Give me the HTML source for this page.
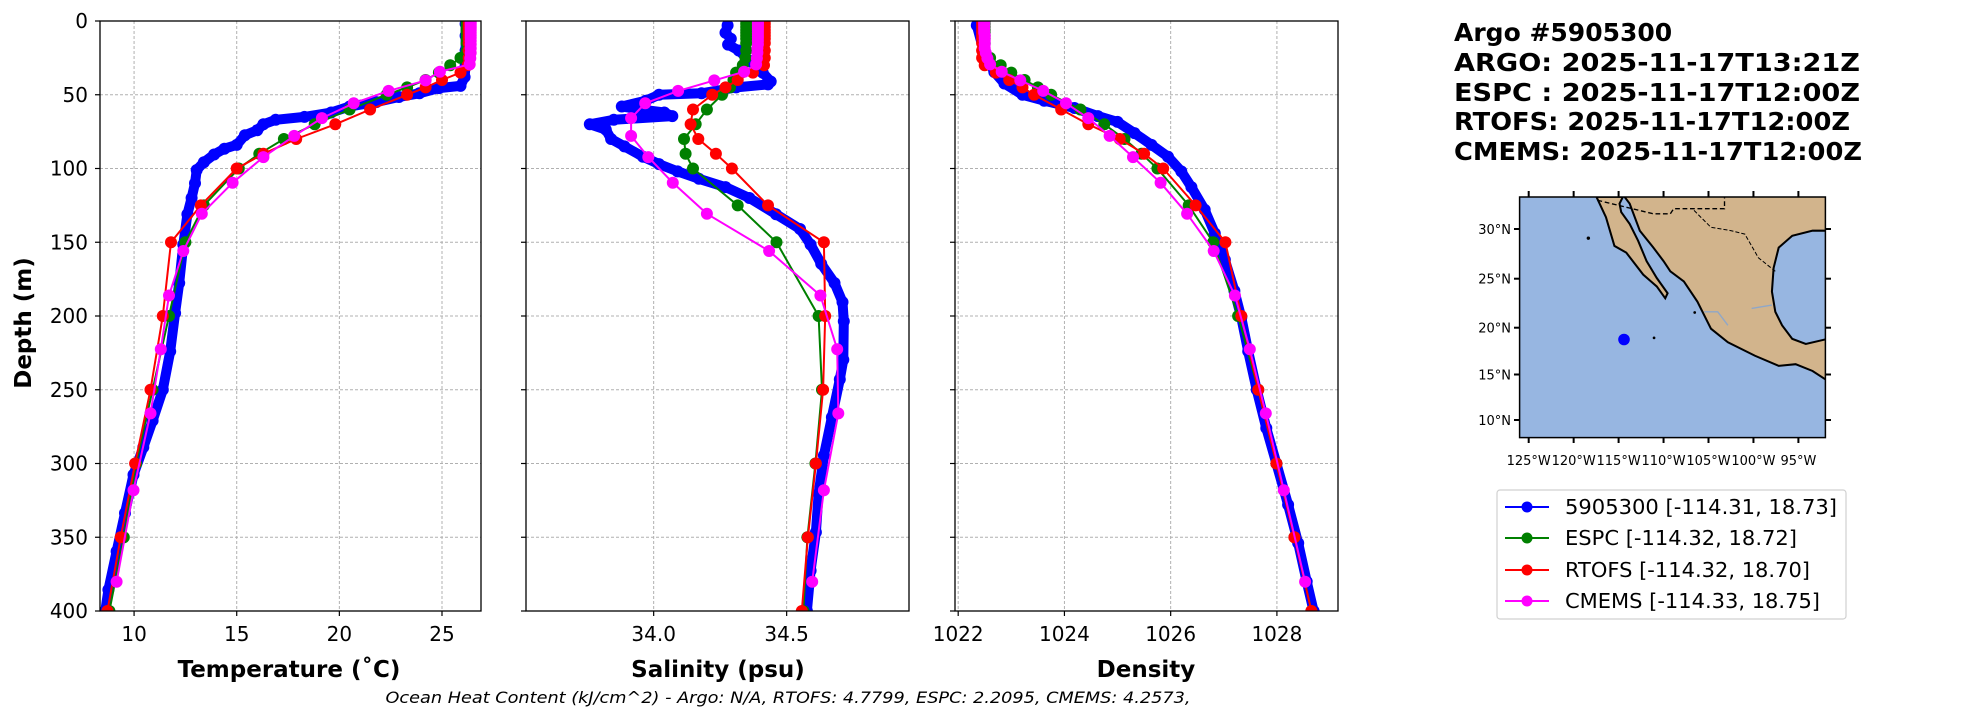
<!DOCTYPE html>
<html><head><meta charset="utf-8">
<style>
html,body{margin:0;padding:0;background:#fff;}
svg{display:block;font-family:"DejaVu Sans","Liberation Sans",sans-serif;}
</style></head>
<body>
<svg id="fig" width="1967" height="712" viewBox="0 0 1967 712" xmlns="http://www.w3.org/2000/svg">
<rect width="1967" height="712" fill="#fff"/>
<g id="panels"></g>

<!-- titles -->
<g font-weight="bold" font-size="25" fill="#000">
<text x="1454" y="41">Argo #5905300</text>
<text x="1454" y="71" textLength="406" lengthAdjust="spacingAndGlyphs">ARGO: 2025-11-17T13:21Z</text>
<text x="1454" y="101" textLength="406" lengthAdjust="spacingAndGlyphs">ESPC : 2025-11-17T12:00Z</text>
<text x="1454" y="130" textLength="396" lengthAdjust="spacingAndGlyphs">RTOFS: 2025-11-17T12:00Z</text>
<text x="1454" y="160" textLength="408" lengthAdjust="spacingAndGlyphs">CMEMS: 2025-11-17T12:00Z</text>
</g>

<!-- map -->
<g>
<clipPath id="mapclip"><rect x="1519.6" y="197" width="305.8" height="240.6"/></clipPath>
<rect x="1519.6" y="197" width="305.8" height="240.6" fill="#97b6e1"/>
<g clip-path="url(#mapclip)">
<g transform="translate(1440,180) scale(0.3387,0.338)">
<polygon fill="#d2b48c" stroke="#000" stroke-width="6" points="545,50 560,70 590,150 630,200 660,240 680,270 720,300 760,360 780,400 800,440 850,480 930,520 1000,550 1050,545 1100,565 1138,590 1145,590 1145,470 1080,485 1040,470 1010,430 990,390 980,330 985,260 1000,200 1040,165 1100,150 1145,150 1145,40 545,40"/>
<polygon fill="#d2b48c" stroke="#000" stroke-width="6" points="462,50 490,110 515,195 550,215 600,280 640,315 665,350 672,335 640,290 610,240 585,180 560,130 535,95 530,70 540,50"/>
<path d="M465,60 L630,100 L680,100 L690,85 L740,85 L840,85 L840,50" fill="none" stroke="#000" stroke-width="4" stroke-dasharray="14,8"/>
<path d="M750,90 L800,140 L860,150 L900,160 L940,230 L990,270" fill="none" stroke="#000" stroke-width="3" stroke-dasharray="12,6"/>
<path d="M780,390 L820,390 L850,430 M920,380 L980,370" fill="none" stroke="#8fa7c8" stroke-width="4"/>
<circle cx="438" cy="172" r="5" fill="#000"/><circle cx="632" cy="467" r="4" fill="#000"/><circle cx="752" cy="392" r="4" fill="#000"/>
</g>
</g>
<rect x="1519.6" y="197" width="305.8" height="240.6" fill="none" stroke="#000" stroke-width="1.5"/>
<circle cx="1624" cy="339.5" r="5.8" fill="#0000ff"/>
<g id="maplabels" font-size="13" fill="#000"></g>
</g>

<!-- legend -->
<g>
<rect x="1497" y="490" width="349" height="129" rx="3" fill="#fff" stroke="#d0d0d0" stroke-width="1.2"/>
<g font-size="20" fill="#000">
<g><line x1="1505" y1="507" x2="1549" y2="507" stroke="#0000ff" stroke-width="2"/><circle cx="1527" cy="507" r="5.5" fill="#0000ff"/><text x="1565" y="514" textLength="272" lengthAdjust="spacingAndGlyphs">5905300 [-114.31, 18.73]</text></g>
<g><line x1="1505" y1="538" x2="1549" y2="538" stroke="#008000" stroke-width="2"/><circle cx="1527" cy="538" r="5.5" fill="#008000"/><text x="1565" y="545" textLength="232" lengthAdjust="spacingAndGlyphs">ESPC [-114.32, 18.72]</text></g>
<g><line x1="1505" y1="570" x2="1549" y2="570" stroke="#ff0000" stroke-width="2"/><circle cx="1527" cy="570" r="5.5" fill="#ff0000"/><text x="1565" y="577" textLength="245" lengthAdjust="spacingAndGlyphs">RTOFS [-114.32, 18.70]</text></g>
<g><line x1="1505" y1="601" x2="1549" y2="601" stroke="#ff00ff" stroke-width="2"/><circle cx="1527" cy="601" r="5.5" fill="#ff00ff"/><text x="1565" y="608" textLength="255" lengthAdjust="spacingAndGlyphs">CMEMS [-114.33, 18.75]</text></g>
</g>
</g>

<text x="788" y="703" font-size="16" font-style="italic" text-anchor="middle" textLength="805" lengthAdjust="spacingAndGlyphs">Ocean Heat Content (kJ/cm^2) - Argo: N/A,  RTOFS: 4.7799,  ESPC: 2.2095,  CMEMS: 4.2573,</text>
</svg>

<script>
// ---------- data ----------
const rtofsDepth=[0,2,4,6,8,10,12,15,20,25,30,35,40,45,50,60,70,80,90,100,125,150,200,250,300,350,400];
const espcDepth=[0,2,4,6,8,10,12,15,20,25,30,35,40,45,50,60,70,80,90,100,125,150,200,250,300,350,400];
const cmemsDepth=[0.5,1.5,2.6,3.8,5.1,6.4,7.9,9.6,11.4,13.5,15.8,18.5,21.6,25.2,29.4,34.4,40.3,47.4,55.8,65.8,77.9,92.3,109.7,130.7,155.9,186.1,222.5,266,318.1,380.2];

const rtofsTemp=[26.3,26.3,26.3,26.3,26.3,26.3,26.3,26.3,26.3,26.3,26.25,25.9,25.0,24.2,23.3,21.5,19.8,17.9,16.3,15.0,13.25,11.8,11.4,10.8,10.05,9.35,8.7];
const espcTemp=[26.2,26.2,26.2,26.2,26.2,26.2,26.2,26.2,26.2,25.9,25.4,24.85,24.2,23.3,22.3,20.5,18.8,17.3,16.1,15.1,13.4,12.5,11.7,10.9,10.1,9.5,8.8];
const cmemsTemp=[26.4,26.4,26.4,26.4,26.4,26.4,26.4,26.4,26.4,26.4,26.4,26.4,26.4,26.38,26.35,24.9,24.2,22.4,20.7,19.15,17.8,16.3,14.8,13.3,12.4,11.7,11.3,10.8,9.97,9.15];
const argoTempDepth=[2,10,20,30,38,44,45.5,49,51.5,55,58,62,65,67,70,74,77.5,84,86.6,90.5,95.7,101,110,120,131,151.6,177.6,198,224,250,271,289,307.6,333.6,359.6,385.6,400];
const argoTemp=[26.15,26.15,26.15,26.15,26.1,25.9,24.85,23.9,22.9,21.8,20.5,19.6,18.3,16.9,16.3,16.0,15.4,15.0,14.4,13.9,13.4,13.05,12.97,12.8,12.6,12.4,12.2,12.0,11.76,11.4,10.9,10.45,9.97,9.56,9.15,8.75,8.6];

const rtofsSal=[34.418,34.418,34.418,34.418,34.418,34.418,34.418,34.418,34.418,34.418,34.415,34.373,34.316,34.27,34.22,34.148,34.139,34.168,34.234,34.294,34.43,34.64,34.645,34.637,34.61,34.58,34.557];
const espcSal=[34.348,34.348,34.348,34.348,34.348,34.348,34.348,34.348,34.348,34.345,34.335,34.31,34.3,34.287,34.257,34.2,34.158,34.114,34.12,34.148,34.316,34.462,34.62,34.633,34.608,34.578,34.563];
const cmemsSal=[34.392,34.392,34.392,34.392,34.392,34.392,34.392,34.392,34.392,34.392,34.392,34.39,34.39,34.388,34.385,34.34,34.228,34.092,33.968,33.915,33.915,33.98,34.072,34.2,34.434,34.627,34.69,34.694,34.64,34.596];
const argoSalDepth=[3,8,12,16,20,27,35,41,43,45,49,50,54,58,60,62,64.5,67,70,73.6,80,85,92,97,102,107,112.6,120,131,141,151.6,164.6,177.6,190.6,203.6,229.6,243,268.6,294.6,320.6,346.6,372.6,400];
const argoSal=[34.278,34.27,34.29,34.28,34.32,34.36,34.41,34.44,34.43,34.31,34.18,34.02,33.97,33.88,33.95,34.04,34.07,33.85,33.76,33.82,33.84,33.89,33.96,34.02,34.09,34.17,34.27,34.36,34.46,34.55,34.59,34.63,34.68,34.71,34.715,34.713,34.70,34.67,34.64,34.62,34.61,34.59,34.576];

const rtofsDens=[1022.45,1022.45,1022.45,1022.45,1022.45,1022.45,1022.45,1022.45,1022.45,1022.45,1022.5,1022.71,1022.96,1023.21,1023.43,1023.94,1024.45,1025.04,1025.5,1025.86,1026.47,1027.03,1027.33,1027.65,1027.99,1028.33,1028.65];
const espcDens=[1022.5,1022.5,1022.5,1022.5,1022.5,1022.5,1022.5,1022.5,1022.5,1022.6,1022.8,1023.0,1023.25,1023.5,1023.75,1024.3,1024.75,1025.13,1025.45,1025.75,1026.34,1026.8,1027.27,1027.65,1027.99,1028.33,1028.65];
const cmemsDens=[1022.49,1022.49,1022.49,1022.49,1022.49,1022.49,1022.49,1022.5,1022.5,1022.5,1022.5,1022.5,1022.52,1022.55,1022.6,1022.82,1023.17,1023.6,1024.03,1024.45,1024.85,1025.29,1025.81,1026.31,1026.81,1027.21,1027.49,1027.79,1028.13,1028.53];
const argoDensDepth=[3,21.6,34.6,42.4,50,54,59,64.5,68.4,76,84,92,102,112.6,128,144,162,183,201,224,250,276,300,328,354,380,400];
const argoDens=[1022.35,1022.49,1022.68,1022.87,1023.21,1023.62,1024.19,1024.63,1025.0,1025.32,1025.64,1025.95,1026.2,1026.39,1026.64,1026.83,1027.02,1027.2,1027.33,1027.46,1027.62,1027.8,1027.99,1028.21,1028.4,1028.56,1028.69];

const depthTicks=[0,50,100,150,200,250,300,350,400];
const tempTicks=[10,15,20,25];
const salTicks=[34.0,34.5];
const densTicks=[1022,1024,1026,1028];
const latTicks=[30,25,20,15,10];
const lonTicks=[125,120,115,110,105,100,95];

// ---------- drawing ----------
const NS='http://www.w3.org/2000/svg';
const panelsG=document.getElementById('panels');
const TOP=21, BOT=611;
function yS(d){return TOP+d*(BOT-TOP)/400;}
function mk(tag,attrs,parent){const e=document.createElementNS(NS,tag);for(const k in attrs)e.setAttribute(k,attrs[k]);(parent||panelsG).appendChild(e);return e;}

const panels=[
 {name:'temperature',x0:100,x1:481,v0:8.34,v1:26.9,ticks:tempTicks,fmt:v=>String(v),label:'Temperature (˚C)',lx:289,
  series:[[argoTempDepth,argoTemp,'#0000ff','argo'],[espcDepth,espcTemp,'#008000','espc'],[rtofsDepth,rtofsTemp,'#ff0000','rtofs'],[cmemsDepth,cmemsTemp,'#ff00ff','cmems']]},
 {name:'salinity',x0:526,x1:909,v0:33.52,v1:34.96,ticks:salTicks,fmt:v=>v.toFixed(1),label:'Salinity (psu)',lx:718,
  series:[[argoSalDepth,argoSal,'#0000ff','argo'],[espcDepth,espcSal,'#008000','espc'],[rtofsDepth,rtofsSal,'#ff0000','rtofs'],[cmemsDepth,cmemsSal,'#ff00ff','cmems']]},
 {name:'density',x0:955,x1:1338,v0:1021.94,v1:1029.15,ticks:densTicks,fmt:v=>String(v),label:'Density',lx:1146,
  series:[[argoDensDepth,argoDens,'#0000ff','argo'],[espcDepth,espcDens,'#008000','espc'],[rtofsDepth,rtofsDens,'#ff0000','rtofs'],[cmemsDepth,cmemsDens,'#ff00ff','cmems']]}
];

panels.forEach((p,pi)=>{
  const xS=v=>p.x0+(v-p.v0)*(p.x1-p.x0)/(p.v1-p.v0);
  const g=mk('g',{});
  
  
  const cp=mk('clipPath',{id:'clip'+pi},g);
  mk('rect',{x:p.x0,y:TOP,width:p.x1-p.x0,height:BOT-TOP},cp);
  depthTicks.forEach(d=>{
    const l=mk('line',{x1:p.x0,x2:p.x1,y1:yS(d),y2:yS(d),stroke:'#b0b0b0','stroke-width':1,'stroke-dasharray':'3,2'},g);
    
    
    mk('line',{x1:p.x0-5,x2:p.x0,y1:yS(d),y2:yS(d),stroke:'#000','stroke-width':1.2},g);
    if(pi===0){
      const t=mk('text',{x:88,y:yS(d)+7,'font-size':20,'text-anchor':'end'},g);
      t.textContent=d;
      
      
    }
  });
  p.ticks.forEach(v=>{
    const x=xS(v);
    const l=mk('line',{x1:x,x2:x,y1:TOP,y2:BOT,stroke:'#b0b0b0','stroke-width':1,'stroke-dasharray':'3,2'},g);
    
    
    mk('line',{x1:x,x2:x,y1:BOT,y2:BOT+5,stroke:'#000','stroke-width':1.2},g);
    const t=mk('text',{x:x,y:641,'font-size':20,'text-anchor':'middle'},g);
    t.textContent=p.fmt(v);
    
    
  });
  const sg=mk('g',{'clip-path':'url(#clip'+pi+')'},g);
  p.series.forEach(([ds,vs,col,nm])=>{
    const pts=ds.map((d,i)=>xS(vs[i]).toFixed(1)+','+yS(d).toFixed(1)).join(' ');
    const isArgo=nm==='argo';
    const pl=mk('polyline',{points:pts,fill:'none',stroke:col,'stroke-width':isArgo?10:2,'stroke-linejoin':'round','stroke-linecap':'round'},sg);
    
    
    ds.forEach((d,i)=>{
      const c=mk('circle',{cx:xS(vs[i]).toFixed(1),cy:yS(d).toFixed(1),r:6,fill:col},sg);
      
      
    });
  });
  const fr=mk('rect',{x:p.x0,y:TOP,width:p.x1-p.x0,height:BOT-TOP,fill:'none',stroke:'#000','stroke-width':1.3},g);
  
  
  const al=mk('text',{x:p.lx,y:677,'font-size':23,'font-weight':'bold','text-anchor':'middle'},g);
  al.textContent=p.label;
  
  
});
const yl=mk('text',{x:0,y:0,'font-size':23,'font-weight':'bold','text-anchor':'middle',transform:'translate(31,323) rotate(-90)'});
yl.textContent='Depth (m)';



const ml=document.getElementById('maplabels');
const latY={30:229,25:278.7,20:327.7,15:374.5,10:420};
latTicks.forEach(v=>{
  const y=latY[v];
  mk('line',{x1:1514,x2:1519.6,y1:y,y2:y,stroke:'#000','stroke-width':2},ml);
  mk('line',{x1:1825.4,x2:1831,y1:y,y2:y,stroke:'#000','stroke-width':2},ml);
  const t=mk('text',{x:1511,y:y+5,'text-anchor':'end'},ml);
  t.textContent=v+'°N';
  
  
});
lonTicks.forEach(v=>{
  const x=1528.7+(125-v)*(269.7/30);
  mk('line',{x1:x,x2:x,y1:437.6,y2:443,stroke:'#000','stroke-width':2},ml);
  mk('line',{x1:x,x2:x,y1:191,y2:197,stroke:'#000','stroke-width':2},ml);
  const t=mk('text',{x:x,y:465,'text-anchor':'middle'},ml);
  t.textContent=v+'°W';
  
  
});
</script>
</body></html>
